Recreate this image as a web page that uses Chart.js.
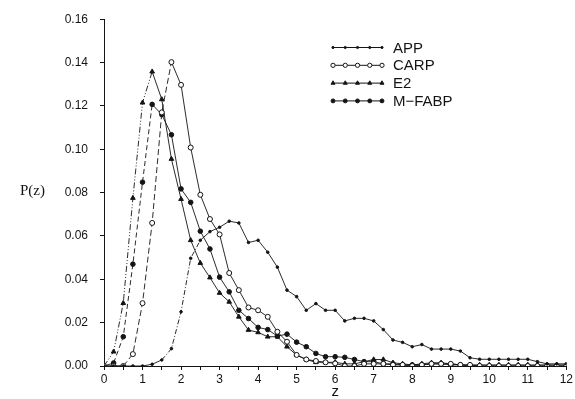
<!DOCTYPE html>
<html>
<head>
<meta charset="utf-8">
<script src="https://cdn.jsdelivr.net/npm/chart.js@4/dist/chart.umd.min.js"></script>
<style>
html,body{margin:0;padding:0;background:#fff;}
#wrap{position:relative;width:575px;height:399px;}
</style>
</head>
<body>
<div id="wrap"><canvas id="c" width="575" height="399"></canvas></div>
<script>
// z positions (x axis)
const zValues = [0,0.25,0.5,0.75,1,1.25,1.5,1.75,2,2.25,2.5,2.75,3,3.25,3.5,3.75,4,4.25,4.5,4.75,5,5.25,5.5,5.75,6,6.25,6.5,6.75,7,7.25,7.5,7.75,8,8.25,8.5,8.75,9,9.25,9.5,9.75,10,10.25,10.5,10.75,11,11.25,11.5,11.75,12];

const seriesNames = ["APP", "CARP", "E2", "M\u2212FABP"];

const appValues = [0,0,0,0,0,0.0008,0.0028,0.008,0.025,0.0497,0.058,0.062,0.064,0.0668,0.066,0.057,0.058,0.0525,0.0456,0.035,0.032,0.0257,0.0288,0.0257,0.0257,0.0208,0.022,0.022,0.0208,0.0168,0.012,0.0109,0.0089,0.0099,0.0078,0.0078,0.0078,0.0069,0.0038,0.0031,0.0031,0.0031,0.0031,0.0031,0.0031,0.002,0.001,0.001,0.001];

const carpValues = [0,0,0,0.0055,0.029,0.066,0.117,0.1402,0.1297,0.1008,0.079,0.0678,0.0607,0.0429,0.035,0.027,0.0257,0.0227,0.0158,0.0112,0.0051,0.003,0.0023,0.0017,0.0012,0,0,0.001,0.001,0.001,0.0005,0.0005,0,0.0005,0.001,0.001,0.001,0.0005,0.0005,0,0,0,0,0,0,0,0,0,0];

const e2Values = [0,0.0066,0.029,0.0775,0.1215,0.1358,0.123,0.0955,0.077,0.058,0.0475,0.0408,0.0337,0.0296,0.0227,0.0166,0.0155,0.0135,0.0135,0.0089,0.005,0.003,0.0017,0.0017,0.0017,0.001,0.001,0.002,0.003,0.003,0.0015,0.001,0.0005,0.001,0.0015,0.0015,0.001,0.0005,0.0005,0.0005,0.0005,0.0005,0.0005,0.0005,0.0005,0.0005,0.0005,0.0005,0.0005];

const mfabpValues = [0,0.0014,0.0135,0.047,0.0848,0.1207,0.116,0.1067,0.0817,0.0755,0.0622,0.054,0.041,0.0342,0.0257,0.0219,0.0178,0.0168,0.0138,0.0147,0.011,0.0089,0.0058,0.0043,0.0043,0.004,0.003,0.002,0.002,0.001,0.001,0.0005,0.0005,0.0005,0.001,0.001,0.0005,0.0005,0,0,0,0,0,0,0,0,0,0,0];

const yTickValues = [0,0.02,0.04,0.06,0.08,0.10,0.12,0.14,0.16];

const INK = '#141414';

function pts(vals){ return vals.map((v,i)=>({x:zValues[i], y:v})); }
function risingDash(pattern){
  return ctx => (ctx.p1.parsed.y - ctx.p0.parsed.y > 0.005) ? pattern : undefined;
}

const styles = [
  {pointStyle:'circle', radius:1.3, bg:INK, dash:[5,2,1,2]},
  {pointStyle:'circle', radius:2.5, bg:'#fff', dash:[6,3]},
  {pointStyle:'triangle', radius:2.7, bg:INK, dash:[6,2,1,2,1,2]},
  {pointStyle:'circle', radius:2.3, bg:INK, dash:[5,3]}
];
const allValues = [appValues, carpValues, e2Values, mfabpValues];

const datasets = allValues.map((vals,i)=>({
  label: seriesNames[i],
  data: pts(vals),
  borderColor: INK,
  borderWidth: 0.9,
  backgroundColor: styles[i].bg,
  pointStyle: styles[i].pointStyle,
  pointRadius: styles[i].radius,
  pointBorderColor: INK,
  pointBackgroundColor: styles[i].bg,
  pointBorderWidth: 1,
  tension: 0,
  segment: { borderDash: risingDash(styles[i].dash) }
}));

const legendPlugin = {
  id: 'customLegend',
  afterDraw(chart){
    const ctx = chart.ctx;
    ctx.save();
    ctx.fillStyle = INK;
    ctx.font = '15px "Liberation Serif"';
    ctx.textBaseline = 'middle';
    ctx.textAlign = 'left';
    ctx.fillText('P(z)', 20, 191);
    chart.data.datasets.forEach((ds,i)=>{
      const y = 47.5 + i*17.8;
      ctx.strokeStyle = INK;
      ctx.lineWidth = 1;
      ctx.setLineDash([]);
      ctx.beginPath();
      ctx.moveTo(333, y); ctx.lineTo(382, y); ctx.stroke();
      for (let k=0;k<5;k++){
        const x = 333 + k*12.25;
        ctx.fillStyle = styles[i].bg;
        ctx.strokeStyle = INK;
        Chart.helpers.drawPoint(ctx, {pointStyle: styles[i].pointStyle, radius: styles[i].radius*0.85, rotation:0, borderWidth:1}, x, y);
      }
      ctx.fillStyle = INK;
      ctx.font = '15px "Liberation Sans"';
      ctx.textBaseline = 'middle';
      ctx.fillText(ds.label, 393, y+1);
    });
    ctx.restore();
  }
};

new Chart(document.getElementById('c'), {
  type: 'line',
  data: { datasets },
  plugins: [legendPlugin],
  options: {
    responsive: false,
    animation: false,
    layout: { padding: { top: 18, right: 5, left: 0, bottom: 0 } },
    plugins: { legend: { display: false }, tooltip: { enabled: false } },
    scales: {
      x: {
        type: 'linear', min: 0, max: 12,
        afterBuildTicks: s => { s.ticks = zValues.filter(z => z*2 === Math.round(z*2)).map(v=>({value:v})); },
        afterFit: s => { s.height = 33; },
        border: { color: INK, width: 1 },
        grid: { drawOnChartArea: false, color: INK, tickLength: 4 },
        ticks: {
          color: INK, padding: 2, maxRotation: 0, autoSkip: false,
          font: { family: '"Liberation Sans"', size: 12 },
          callback: v => Number.isInteger(v) ? String(v) : ''
        },
        title: { display: true, text: 'z', color: INK, padding: {top:0,bottom:-2},
                 font: { family: '"Liberation Sans"', size: 15 } }
      },
      y: {
        type: 'linear', min: 0, max: 0.16,
        afterBuildTicks: s => { s.ticks = yTickValues.map(v=>({value:v})); },
        afterFit: s => { s.width = 104; },
        border: { color: INK, width: 1 },
        grid: { drawOnChartArea: false, color: INK, tickLength: 4 },
        ticks: {
          color: INK, padding: 12,
          font: { family: '"Liberation Sans"', size: 12 },
          callback: v => v.toFixed(2)
        }
      }
    }
  }
});
</script>
</body>
</html>
